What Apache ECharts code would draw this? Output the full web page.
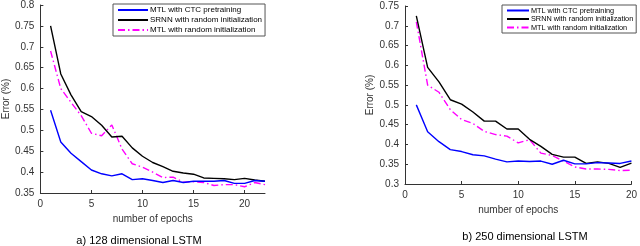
<!DOCTYPE html>
<html><head><meta charset="utf-8">
<script src="https://cdn.jsdelivr.net/npm/echarts@6/dist/echarts.min.js"></script>
<style>html,body{margin:0;padding:0;background:#fff}#c{width:640px;height:246px}</style>
</head><body><div id="c"></div>
<script>
const seriesNames = ['MTL with CTC pretraining', 'SRNN with random initialization', 'MTL with random initialization'];
const epochsA = [1,2,3,4,5,6,7,8,9,10,11,12,13,14,15,16,17,18,19,20,21,22];
const ctcA  = [0.548,0.472,0.445,0.425,0.405,0.396,0.391,0.396,0.382,0.384,0.380,0.375,0.380,0.375,0.378,0.378,0.378,0.380,0.373,0.373,0.380,0.378];
const srnnA = [0.750,0.635,0.585,0.545,0.533,0.512,0.484,0.486,0.458,0.438,0.423,0.413,0.402,0.398,0.395,0.386,0.385,0.384,0.382,0.385,0.381,0.378];
const mtlA  = [0.690,0.600,0.567,0.535,0.493,0.487,0.513,0.455,0.420,0.412,0.400,0.387,0.388,0.376,0.377,0.375,0.368,0.370,0.370,0.365,0.375,0.370];
const epochsB = [1,2,3,4,5,6,7,8,9,10,11,12,13,14,15,16,17,18,19,20];
const ctcB  = [0.500,0.432,0.407,0.387,0.382,0.374,0.371,0.363,0.356,0.358,0.357,0.358,0.350,0.360,0.351,0.351,0.354,0.353,0.352,0.358];
const srnnB = [0.725,0.595,0.558,0.513,0.502,0.482,0.459,0.459,0.439,0.439,0.413,0.395,0.375,0.368,0.368,0.352,0.356,0.352,0.342,0.353];
const mtlB  = [0.710,0.550,0.532,0.488,0.463,0.453,0.433,0.425,0.421,0.404,0.412,0.378,0.372,0.358,0.343,0.338,0.338,0.337,0.334,0.335];
const titles = ['a) 128 dimensional LSTM', 'b) 250 dimensional LSTM'];
const xName = 'number of epochs';
const yName = 'Error (%)';

const FONT = 'Liberation Sans';
const colors = ['#0000ff', '#000000', '#ff00ff'];
const lineTypes = ['solid', 'solid', [7,3,1.5,3]];
const pair = (xs, ys) => xs.map((x, i) => [x, ys[i]]);

function mkSeries(idx, xs, arrs) {
  return arrs.map((a, k) => ({
    type: 'line', name: seriesNames[k], xAxisIndex: idx, yAxisIndex: idx,
    data: pair(xs, a), symbol: 'none', animation: false,
    lineStyle: { color: colors[k], width: 1.4, type: lineTypes[k] },
    itemStyle: { color: colors[k] }, z: 3 - k
  }));
}
const axisCommon = {
  axisLine: { show: true, lineStyle: { color: '#333', width: 1 } },
  axisTick: { show: true, inside: true, length: 3, lineStyle: { color: '#333' } },
  axisLabel: { color: '#333', fontSize: 10, fontFamily: FONT, margin: 6 },
  splitLine: { show: false }
};
function xAx(idx, max, gap, showMax) {
  return Object.assign({}, axisCommon, { type: 'value', gridIndex: idx, min: 0, max: max, interval: 5,
    name: xName, nameLocation: 'middle', nameGap: gap,
    nameTextStyle: { color: '#333', fontSize: 10, fontFamily: FONT },
    axisLabel: Object.assign({}, axisCommon.axisLabel, { showMaxLabel: showMax }) });
}
function yAx(idx, min, max, gap) {
  return Object.assign({}, axisCommon, { type: 'value', gridIndex: idx, min: min, max: max, interval: 0.05,
    name: yName, nameLocation: 'middle', nameGap: gap, nameRotate: 90,
    nameTextStyle: { color: '#333', fontSize: 10, fontFamily: FONT },
    axisLabel: Object.assign({}, axisCommon.axisLabel, { formatter: v => String(+v.toFixed(2)) }) });
}
function legend(left, top, fs, iw, gap) {
  return {
    orient: 'vertical', left: left, top: top, backgroundColor: '#fff', borderColor: '#555', borderWidth: 1,
    padding: [2, 3, 2, 4], itemGap: gap, itemWidth: iw, itemHeight: 8,
    itemStyle: { opacity: 0 },
    textStyle: { color: '#000', fontSize: fs, fontFamily: FONT, padding: [0, 0, 0, -3] },
    data: seriesNames, selectedMode: false
  };
}
const chart = echarts.init(document.getElementById('c'), null, { renderer: 'canvas' });
chart.setOption({
  backgroundColor: '#fff',
  animation: false,
  title: [
    { text: titles[0], left: 134, top: 230, textAlign: 'center', textStyle: { fontSize: 11, fontWeight: 'normal', color: '#000', fontFamily: FONT } },
    { text: titles[1], left: 520, top: 226, textAlign: 'center', textStyle: { fontSize: 11, fontWeight: 'normal', color: '#000', fontFamily: FONT } }
  ],
  grid: [
    { left: 33, top: 4, width: 232, height: 189 },
    { left: 405, top: 6, width: 231, height: 178 }
  ],
  xAxis: [xAx(0, 22, 16, false), xAx(1, 20, 15, true)],
  yAxis: [yAx(0, 0.35, 0.8, 25), yAx(1, 0.3, 0.75, 19)],
  legend: [legend(113, 4, 8, 30, 2), legend(502, 5, 7.3, 22, 1.5)],
  series: [...mkSeries(0, epochsA, [ctcA, srnnA, mtlA]), ...mkSeries(1, epochsB, [ctcB, srnnB, mtlB])]
});
</script></body></html>
